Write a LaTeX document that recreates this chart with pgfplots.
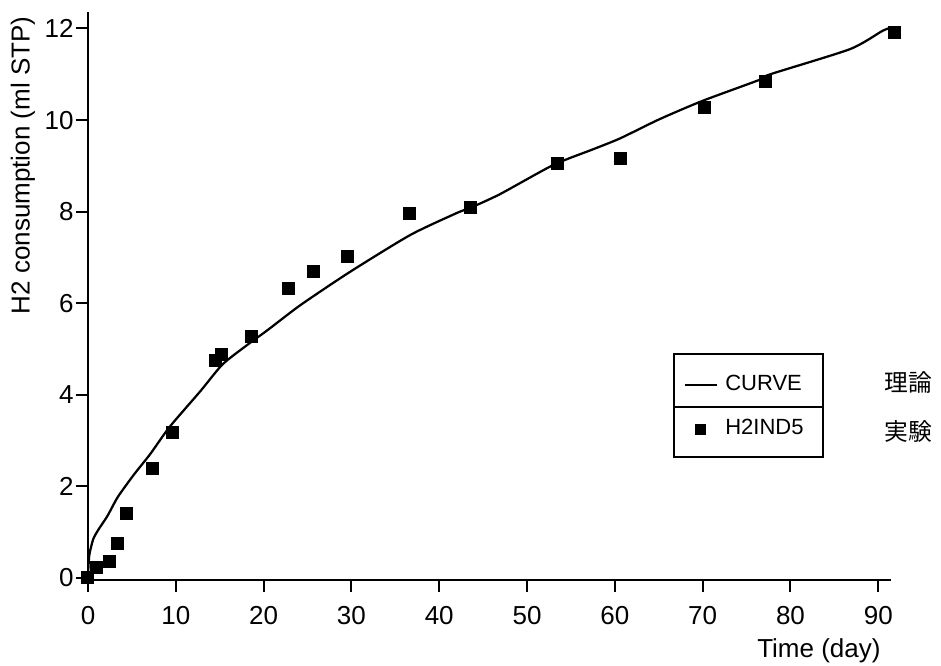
\documentclass[border=0pt]{standalone}
\usepackage{fontspec}
\setmainfont{Liberation Sans}
\newfontfamily\cjk{Noto Sans CJK JP}
\usepackage{pgfplots}
\pgfplotsset{compat=1.18}
\pgfplotsset{
  curveimg/.style={legend image code/.code={\draw[##1] (0pt,0pt) -- (12.8pt,0pt);}},
  markimg/.style={legend image code/.code={\draw[##1, mark size=2pt] plot coordinates {(6.4pt,0pt)};}},
}
\begin{document}
\begin{tikzpicture}[x=1pt,y=1pt]
\useasboundingbox (-35.2,-34.4) rectangle (341.2,232);
\begin{axis}[
  at={(0,0)}, anchor=south west,
  scale only axis, width=321.2pt, height=227.2pt,
  xmin=0, xmax=91.45, ymin=-0.044, ymax=12.36,
  clip=false,
  axis x line=bottom, axis y line=left,
  axis line style={-, line width=0.9pt},
  tick align=outside, major tick length=4.8pt,
  tick style={line width=0.8pt, black},
  xtick={0,10,...,90}, ytick={0,2,...,12},
  /pgf/number format/assume math mode=true,
  tick label style={font=\fontsize{10.4}{12}\selectfont},
  x tick label style={yshift=-2.4pt},
  y tick label style={xshift=2.6pt},
  label style={font=\fontsize{10.4}{12}\selectfont},
  xlabel={Time (day)},
  x label style={at={(axis description cs:0.998,0)}, anchor=east, yshift=-28.5pt},
  ylabel={H2 consumption (ml STP)},
  y label style={at={(axis description cs:-0.081,0.73)}, anchor=center},
  legend style={at={(axis description cs:0.741,0.3046)}, anchor=west, draw=none, fill=none,
    inner sep=0pt, row sep=6pt, column sep=1pt,
    font=\fontsize{8.8}{10}\selectfont, cells={anchor=west}},
]
\addplot[black, line width=0.9pt, smooth, tension=0.4, curveimg]
coordinates {
(0,0.05) (0.15,0.5) (0.6,0.85) (1.2,1.06) (2.2,1.35) (3.4,1.77) (5.2,2.25)
(7.1,2.71) (9.3,3.30) (12.8,4.08) (15.3,4.66) (18.0,5.07) (20.5,5.42)
(24.2,5.96) (29.8,6.68) (36.7,7.49) (42.0,7.97) (43.5,8.08) (46.9,8.38)
(53.0,9.02) (57.5,9.36) (60.6,9.6) (65.1,10.02) (70.0,10.42)
(76.5,10.88) (77.7,11.0) (86.8,11.55) (90.5,11.95) (91.7,12.03)
};
\addlegendentry{CURVE}
\addplot[only marks, mark=square*, mark size=2.4pt, black, markimg]
coordinates {
(0,0) (1.0,0.22) (2.4,0.35) (3.4,0.76) (4.4,1.40) (7.4,2.38) (9.6,3.17)
(14.5,4.75) (15.2,4.87) (18.6,5.28) (22.8,6.33) (25.7,6.70) (29.5,7.03)
(36.6,7.95) (43.6,8.08) (53.5,9.06) (60.7,9.17) (70.2,10.28) (77.2,10.85)
(91.8,11.92)
};
\addlegendentry{H2IND5}
\draw[line width=0.8pt] (axis cs:66.7,2.64) rectangle (axis cs:83.7,4.89);
\draw[line width=0.8pt] (axis cs:66.7,3.73) -- (axis cs:83.7,3.73);
\node[anchor=west, font=\cjk\fontsize{9.5}{11}\selectfont] at (axis cs:89.7,4.28) {理論};
\node[anchor=west, font=\cjk\fontsize{9.5}{11}\selectfont] at (axis cs:89.7,3.19) {実験};
\end{axis}
\end{tikzpicture}
\end{document}
